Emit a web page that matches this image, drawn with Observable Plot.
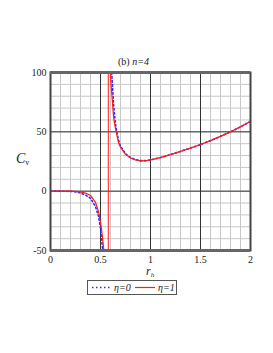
<!DOCTYPE html>
<html>
<head>
<meta charset="utf-8">
<script src="https://cdn.jsdelivr.net/npm/d3@7"></script>
<script src="https://cdn.jsdelivr.net/npm/@observablehq/plot@0.6"></script>
<style>
  html, body { margin: 0; padding: 0; background: #fff; }
  #wrap { position: relative; width: 273px; height: 353px; font-family: "Liberation Serif", "DejaVu Serif", serif; color: #222; }
  #chart { position: absolute; left: 0; top: 0; }
  .abs { position: absolute; white-space: nowrap; }
  #title { left: 0; width: 267px; top: 56px; text-align: center; font-size: 10px; }
  #ylab { left: 16px; top: 151px; font-size: 14px; font-style: italic; }
  #ylab sub { font-size: 8px; font-style: normal; vertical-align: -2px; }
  #xlab { left: 146px; top: 264px; font-size: 12px; font-style: italic; }
  #xlab sub { font-size: 7px; vertical-align: -2px; }
  #legend { left: 87px; top: 280px; width: 90px; height: 15px; border: 1px solid #555; box-sizing: border-box; font-size: 10px; font-style: italic; }
</style>
</head>
<body>
<div id="wrap">
  <div id="chart"></div>
  <div id="title" class="abs">(b) <i>n=4</i></div>
  <div id="ylab" class="abs">C<sub>v</sub></div>
  <div id="xlab" class="abs">r<sub>h</sub></div>
  <div id="legend" class="abs"></div>
</div>
<script>
// ---- data ----
const xTicks = [0, 0.5, 1, 1.5, 2];
const yTicks = [-50, 0, 50, 100];
const seriesNames = ["η=0", "η=1"];

// eta = 1 (red, solid)
const redLeftX = [0, 0.1, 0.2, 0.25, 0.3, 0.35, 0.4, 0.45, 0.48, 0.5, 0.51, 0.52, 0.53, 0.535];
const redLeftY = [0, 0, 0, -0.2, -0.6, -1.6, -3.6, -9.5, -17, -26, -32, -39, -47, -52];
const redPoleX = [0.578, 0.578];
const redPoleY = [-60, 110];
const redRightX = [0.598, 0.6, 0.605, 0.617, 0.63, 0.645, 0.657, 0.68, 0.7, 0.75, 0.8, 0.85, 0.9, 0.95, 1.0, 1.1, 1.2, 1.3, 1.4, 1.5, 1.6, 1.7, 1.8, 1.9, 2.0];
const redRightY = [110, 100, 90, 78, 63, 55, 50, 41, 37, 31, 28, 26.3, 25.5, 25.6, 26.3, 28.3, 30.8, 33.5, 36.3, 39.3, 42.6, 46.2, 50, 54.2, 58.8];

// eta = 0 (blue, dotted)
const blueLeftX = [0, 0.1, 0.2, 0.25, 0.3, 0.35, 0.4, 0.45, 0.48, 0.5, 0.51, 0.52, 0.525];
const blueLeftY = [0, 0, -0.2, -0.6, -1.5, -3.2, -6, -13, -21, -31, -39, -48, -55];
const blueRightX = [0.608, 0.612, 0.62, 0.63, 0.645, 0.66, 0.68, 0.7, 0.75, 0.8, 0.85, 0.9, 0.95, 1.0, 1.1, 1.2, 1.3, 1.4, 1.5, 1.6, 1.7, 1.8, 1.9, 2.0];
const blueRightY = [110, 100, 88, 74, 60, 51, 43, 38, 31.5, 28.3, 26.6, 25.7, 25.7, 26.3, 28.3, 30.8, 33.5, 36.3, 39.3, 42.6, 46.2, 50, 54.2, 58.8];

const RED = "#ff1a1a";
const BLUE = "#2b2bff";
const pts = (xs, ys) => xs.map((x, i) => ({x, y: ys[i]}));

const minorX = d3.range(0, 2.0001, 0.1).map(v => +v.toFixed(2));
const minorY = d3.range(-50, 100.0001, 10);
const majorX = [0.5, 1, 1.5];
const majorY = [0, 50];

const chart = Plot.plot({
  width: 273,
  height: 353,
  marginLeft: 50,
  marginRight: 23,
  marginTop: 72,
  marginBottom: 103,
  x: {domain: [0, 2], label: null},
  y: {domain: [-50, 100], label: null},
  style: {fontFamily: "'Liberation Serif', serif", fontSize: "10px", color: "#222", background: "#fff"},
  marks: [
    Plot.ruleX(minorX, {stroke: "#c8c8c8", strokeWidth: 1}),
    Plot.ruleY(minorY, {stroke: "#c8c8c8", strokeWidth: 1}),
    Plot.ruleX(majorX, {stroke: "#333", strokeWidth: 1}),
    Plot.ruleY(majorY, {stroke: "#333", strokeWidth: 1}),
    Plot.line(pts(blueLeftX, blueLeftY), {x: "x", y: "y", stroke: BLUE, strokeWidth: 1.6, strokeDasharray: "1.5,2.5", clip: true}),
    Plot.line(pts(blueRightX, blueRightY), {x: "x", y: "y", stroke: BLUE, strokeWidth: 1.6, strokeDasharray: "1.5,2.5", clip: true}),
    Plot.line(pts(redLeftX, redLeftY), {x: "x", y: "y", stroke: RED, strokeWidth: 1.2, clip: true}),
    Plot.line(pts(redPoleX, redPoleY), {x: "x", y: "y", stroke: RED, strokeWidth: 1, clip: true}),
    Plot.line(pts(redRightX, redRightY), {x: "x", y: "y", stroke: RED, strokeWidth: 1.2, clip: true}),
    Plot.frame({stroke: "#444", strokeWidth: 2}),
    Plot.ruleY([-50, 100], {stroke: "#666", strokeWidth: 3}),
    Plot.axisX(xTicks, {tickSize: 0, tickPadding: 5, tickFormat: d => String(d), fontSize: 10, label: null}),
    Plot.axisY(yTicks, {tickSize: 0, tickPadding: 4, tickFormat: d => String(d), fontSize: 10, label: null})
  ]
});
document.getElementById("chart").appendChild(chart);

// legend
const legend = d3.select("#legend");
const svg = legend.append("svg").attr("width", 88).attr("height", 13).style("position", "absolute").style("left", "0px").style("top", "0px");
svg.append("line").attr("x1", 4).attr("x2", 22).attr("y1", 6.5).attr("y2", 6.5).attr("stroke", BLUE).attr("stroke-width", 1.6).attr("stroke-dasharray", "1.5,2.5");
svg.append("text").attr("x", 26).attr("y", 10).attr("font-size", 10).attr("font-style", "italic").attr("font-family", "'Liberation Serif', serif").attr("fill", "#222").text(seriesNames[0]);
svg.append("line").attr("x1", 47).attr("x2", 67).attr("y1", 6.5).attr("y2", 6.5).attr("stroke", RED).attr("stroke-width", 1.2);
svg.append("text").attr("x", 70).attr("y", 10).attr("font-size", 10).attr("font-style", "italic").attr("font-family", "'Liberation Serif', serif").attr("fill", "#222").text(seriesNames[1]);
</script>
</body>
</html>
